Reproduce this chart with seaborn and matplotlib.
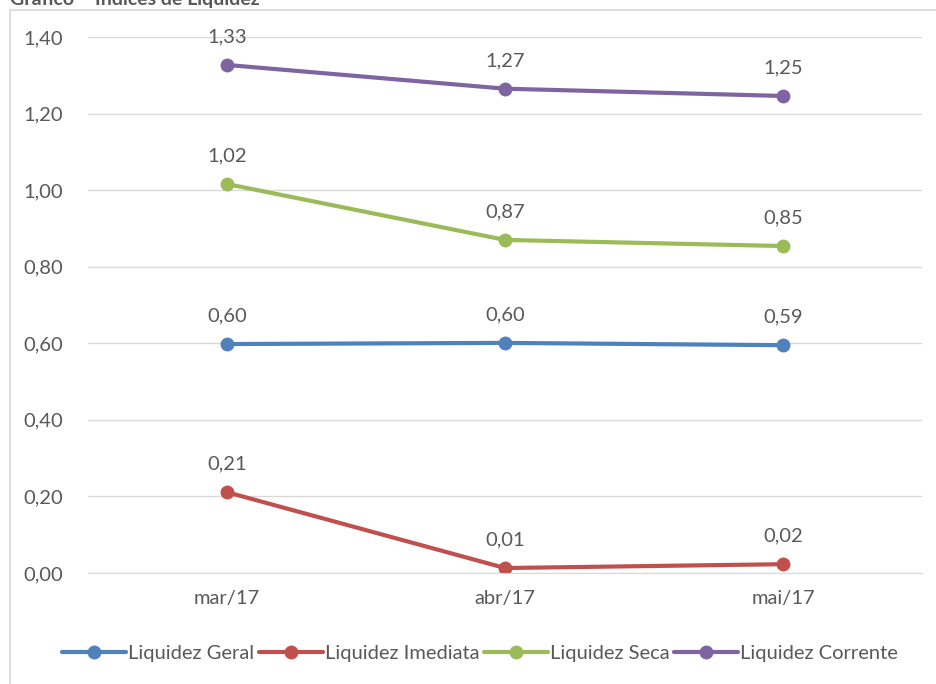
import pandas as pd
import matplotlib.pyplot as plt
import matplotlib.patches as patches
import seaborn as sns

# dados do gráfico
meses = ['mar/17', 'abr/17', 'mai/17']
liq_geral = [0.598, 0.601, 0.595]
liq_imediata = [0.211, 0.013, 0.023]
liq_seca = [1.016, 0.870, 0.854]
liq_corrente = [1.327, 1.265, 1.246]
rotulos = {
    'Liquidez Geral': ['0,60', '0,60', '0,59'],
    'Liquidez Imediata': ['0,21', '0,01', '0,02'],
    'Liquidez Seca': ['1,02', '0,87', '0,85'],
    'Liquidez Corrente': ['1,33', '1,27', '1,25'],
}
series = ['Liquidez Geral', 'Liquidez Imediata', 'Liquidez Seca', 'Liquidez Corrente']
cores = ['#4F81BD', '#C0504D', '#9BBB59', '#8064A2']

df = pd.DataFrame({
    'mes': meses * 4,
    'serie': [s for s in series for _ in meses],
    'valor': liq_geral + liq_imediata + liq_seca + liq_corrente,
})

sns.set_style('white')
plt.rcParams['font.family'] = ['Lato', 'DejaVu Sans']
cinza = '#595959'
fs = 14.5

fig = plt.figure(figsize=(9.37, 6.84), dpi=100)
ax = fig.add_axes([88 / 937, 111 / 684, 834 / 937, 536 / 684])

sns.lineplot(data=df, x='mes', y='valor', hue='serie', palette=cores, marker='o',
             markersize=10, markeredgewidth=0, linewidth=3, sort=False, ax=ax)

for i, s in enumerate(series):
    vals = df[df['serie'] == s]['valor'].tolist()
    for j, v in enumerate(vals):
        ax.annotate(rotulos[s][j], (j, v), xytext=(0, 14), textcoords='offset points',
                    ha='center', va='bottom', fontsize=fs, color=cinza)

ax.set_xlim(-0.5, 2.5)
ax.set_ylim(0, 1.4)
ax.set_yticks([0, 0.2, 0.4, 0.6, 0.8, 1.0, 1.2, 1.4])
ax.set_yticklabels(['0,00', '0,20', '0,40', '0,60', '0,80', '1,00', '1,20', '1,40'])
ax.tick_params(axis='both', labelsize=fs, labelcolor=cinza, length=0)
ax.tick_params(axis='y', pad=18)
ax.tick_params(axis='x', pad=12)
ax.grid(axis='y', color='#D9D9D9', linewidth=1)
ax.set_axisbelow(True)
for lado in ['top', 'right', 'left']:
    ax.spines[lado].set_visible(False)
ax.spines['bottom'].set_color('#D9D9D9')
ax.set_xlabel('')
ax.set_ylabel('')

leg = ax.legend(loc='upper center', bbox_to_anchor=(0.47, -0.1), ncol=4, frameon=False,
                fontsize=fs, handlelength=3.2, handletextpad=0.1, columnspacing=0.2)
for t in leg.get_texts():
    t.set_color(cinza)

# moldura do gráfico
fig.patches.append(patches.Rectangle((10 / 937, -0.05), 1.0, 1 - 10 / 684 + 0.05,
                                     transform=fig.transFigure, fill=False,
                                     edgecolor='#D9D9D9', linewidth=1.2))
fig.text(10 / 937, 1.0 + 3 / 684, 'Gráfico – Índices de Liquidez', ha='left', va='center',
         fontsize=14, color=cinza, fontweight='bold')

fig.savefig('out.png', dpi=100)
